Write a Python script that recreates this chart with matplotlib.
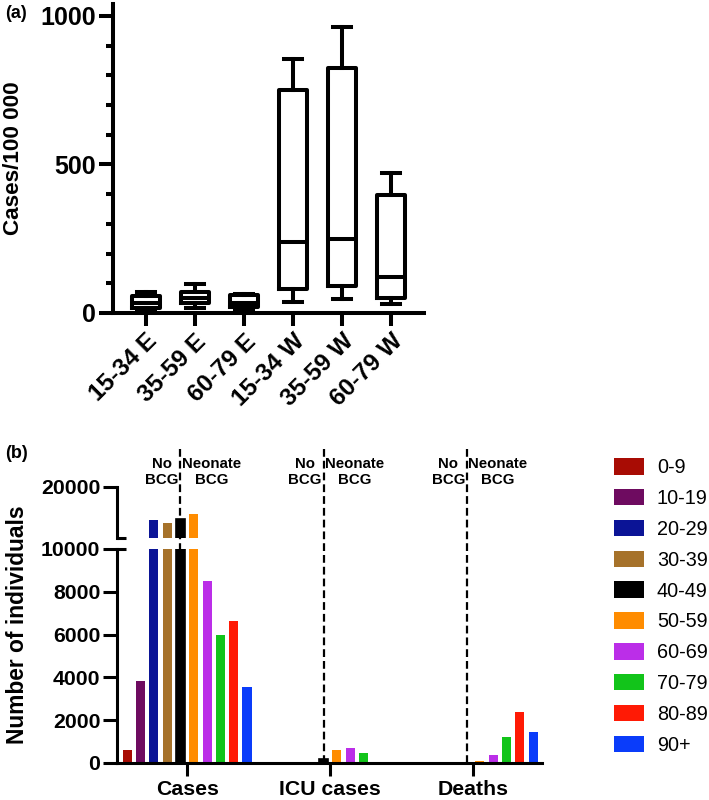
import numpy as np
import matplotlib
matplotlib.use('Agg')
import matplotlib.pyplot as plt
from matplotlib.lines import Line2D
from matplotlib.patches import Patch
import matplotlib.transforms as mtransforms

plt.rcParams['font.family'] = ['Liberation Sans', 'DejaVu Sans']

# panel (a) box plot stats, cases per 100 000
groups_a = ['15-34 E', '35-59 E', '60-79 E', '15-34 W', '35-59 W', '60-79 W']
whislo = [3, 17, 10, 37, 47, 30]
q1 = [17, 33, 20, 80, 91, 51]
med = [35, 50, 35, 239, 249, 121]
q3 = [57, 70, 60, 751, 825, 397]
whishi = [72, 98, 63, 855, 963, 471]

# panel (b) counts by age group
age_groups = ['0-9', '10-19', '20-29', '30-39', '40-49', '50-59', '60-69', '70-79', '80-89', '90+']
colors = ['#A80C04', '#6E0B60', '#0B1496', '#A6722A', '#000000',
          '#FF8C00', '#BB2EE8', '#12C41A', '#FF1A05', '#0A3CFA']
categories = ['Cases', 'ICU cases', 'Deaths']
cases = [600, 3850, 13500, 12900, 13700, 14800, 8500, 5980, 6640, 3560]
icu = [0, 0, 30, 50, 200, 600, 700, 470, 50, 0]
deaths = [0, 0, 0, 0, 20, 100, 360, 1200, 2380, 1450]

W, H = 709, 800
fig = plt.figure(figsize=(W / 100, H / 100), dpi=100)

def box(l, t, r, b):
    return [l / W, 1 - b / H, (r - l) / W, (b - t) / H]

# ---------- panel (a) ----------
lw_a = 2.9
ax_a = fig.add_axes(box(113, 4, 424, 313))
stats = []
for i in range(len(groups_a)):
    stats.append(dict(whislo=whislo[i], q1=q1[i], med=med[i], q3=q3[i], whishi=whishi[i], fliers=[]))
ax_a.bxp(stats, positions=np.arange(len(groups_a)), widths=0.57, capwidths=0.36,
         showfliers=False,
         boxprops=dict(color='black', linewidth=lw_a),
         medianprops=dict(color='black', linewidth=lw_a),
         whiskerprops=dict(color='black', linewidth=lw_a),
         capprops=dict(color='black', linewidth=lw_a))
ax_a.set_xlim(-0.67, 5.67)
ax_a.set_ylim(0, 1040)
ax_a.set_yticks([0, 500, 1000])
ax_a.set_yticks(np.arange(0, 1001, 100), minor=True)
ax_a.set_xticks(np.arange(len(groups_a)))
ax_a.set_xticklabels(groups_a, rotation=45, ha='right', rotation_mode='anchor',
                     fontsize=17.5, fontweight='bold')
for lab in ax_a.get_yticklabels():
    lab.set_fontsize(18)
    lab.set_fontweight('bold')
ax_a.tick_params(axis='y', which='major', length=10, width=lw_a, pad=2)
ax_a.tick_params(axis='y', which='minor', length=5, width=lw_a)
ax_a.tick_params(axis='x', which='major', length=9, width=lw_a, pad=3)
ax_a.tick_params(axis='x', which='minor', bottom=False)
for s in ['top', 'right']:
    ax_a.spines[s].set_visible(False)
for s in ['left', 'bottom']:
    ax_a.spines[s].set_linewidth(lw_a)
fig.text(14 / W, 1 - 158 / H, 'Cases/100 000', rotation=90, ha='center', va='center',
         fontsize=16.2, fontweight='bold')
fig.text(5 / W, 1 - 14 / H, '(a)', ha='left', va='center', fontsize=13, fontweight='bold')

# ---------- panel (b) ----------
lw_b = 2.2
ax_bot = fig.add_axes(box(117, 549, 542, 763))
ax_top = fig.add_axes(box(117, 487, 542, 538), sharex=ax_bot)

x = np.arange(len(categories))
step = 0.093
bw = 0.063
values = np.array([cases, icu, deaths])
for ax in (ax_bot, ax_top):
    for j, ag in enumerate(age_groups):
        off = (j - 4.5) * step
        ec = 'black' if ag == '40-49' else colors[j]
        ax.bar(x + off, values[:, j], width=bw, color=colors[j], edgecolor=ec,
               linewidth=1.2 if ag == '40-49' else 0, label=ag)

ax_bot.set_xlim(-0.49, 2.48)
ax_bot.set_ylim(0, 10000)
ax_top.set_ylim(10000, 20000)
ax_bot.set_yticks(np.arange(0, 10001, 2000))
ax_top.set_yticks([20000])
ax_bot.set_xticks(x)
ax_bot.set_xticklabels(categories, fontsize=15.3, fontweight='bold')
for ax in (ax_bot, ax_top):
    for lab in ax.get_yticklabels():
        lab.set_fontsize(15.3)
        lab.set_fontweight('bold')
    ax.tick_params(axis='y', length=10, width=lw_b, pad=2)
    for s in ['top', 'right']:
        ax.spines[s].set_visible(False)
    ax.spines['left'].set_linewidth(lw_b)
ax_bot.spines['bottom'].set_linewidth(lw_b)
ax_bot.tick_params(axis='x', length=9, width=lw_b, pad=3)
ax_top.spines['bottom'].set_visible(False)
ax_top.tick_params(axis='x', bottom=False, labelbottom=False)

# break marks
ax_bot.plot([0, 0.022], [1, 1], transform=ax_bot.transAxes, color='black', lw=lw_b,
            clip_on=False, solid_capstyle='butt')
ax_top.plot([0, 0.022], [0, 0], transform=ax_top.transAxes, color='black', lw=lw_b,
            clip_on=False, solid_capstyle='butt')

# dashed separators (through the 40-49 bar) and BCG labels
trans = mtransforms.blended_transform_factory(ax_bot.transData, fig.transFigure)
ttop = mtransforms.blended_transform_factory(ax_top.transData, ax_top.transAxes)
for xi in x:
    xd = xi + (4 - 4.5) * step
    fig.add_artist(Line2D([xd, xd], [1 - 763 / H, 1 - 445 / H], transform=trans,
                          color='black', lw=1.6, linestyle=(0, (3.5, 1.8))))
    ax_top.text(xd - 0.012, 1.0, 'No\nBCG', transform=ttop, ha='right', va='bottom',
                multialignment='center', fontsize=10.8, fontweight='bold', linespacing=1.2)
    ax_top.text(xd + 0.012, 1.0, 'Neonate\nBCG', transform=ttop, ha='left', va='bottom',
                multialignment='center', fontsize=10.8, fontweight='bold', linespacing=1.2)

fig.text(18 / W, 1 - 625 / H, 'Number of individuals', rotation=90, ha='center',
         va='center', fontsize=16.4, fontweight='bold')
fig.text(5 / W, 1 - 453 / H, '(b)', ha='left', va='center', fontsize=13, fontweight='bold')

handles = [Patch(facecolor=c, edgecolor='none') for c in colors]
fig.legend(handles, age_groups, loc='upper left', bbox_to_anchor=(614 / W, 1 - 458 / H),
           frameon=False, fontsize=14.3, borderpad=0, borderaxespad=0,
           handlelength=1.51, handleheight=0.906, handletextpad=0.65, labelspacing=0.59)

fig.savefig('out.png', dpi=100)
